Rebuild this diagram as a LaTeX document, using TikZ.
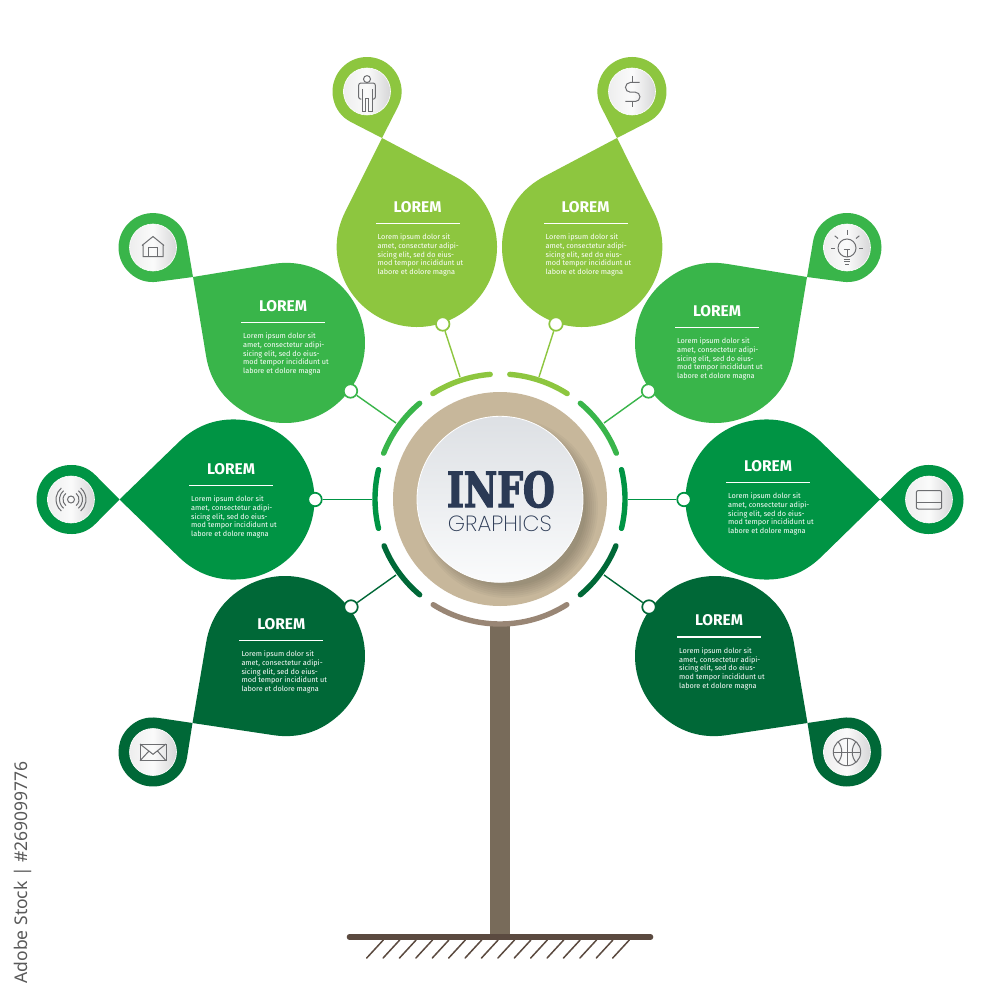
\documentclass[tikz,border=0pt]{standalone}
\usepackage{fontspec}
\setmainfont{Fira Sans}
\newfontfamily\infofont[UprightFont={* Bold},FakeStretch=0.75,FakeBold=2.4]{DejaVu Serif}
\newfontfamily\graphfont[UprightFont={* ExtraLight}]{Poppins}
\newfontfamily\stockfont{Noto Sans}
\definecolor{leaflight}{HTML}{8DC63F}
\definecolor{leafgreen}{HTML}{39B54A}
\definecolor{leafmid}{HTML}{009444}
\definecolor{leafdark}{HTML}{006837}
\definecolor{crowntan}{HTML}{C7B79B}
\definecolor{barkarc}{HTML}{998675}
\definecolor{bark}{HTML}{786B5A}
\definecolor{soil}{HTML}{5B4A40}
\definecolor{inkblue}{HTML}{2B3A55}
\definecolor{icongrey}{HTML}{6D6E71}
\definecolor{hubtop}{HTML}{DDE0E4}
\definecolor{hublow}{HTML}{FAFBFC}
\tikzset{
  title/.style = {text = white, font = \fontsize{15.5}{16}\selectfont\bfseries, inner sep = 0},
  bar/.style = {fill = white, minimum width = 84, minimum height = 1.6, inner sep = 0, outer sep = 0},
  body/.style = {text = white, anchor = north west, inner sep = 0, align = left,
                 font = \fontsize{7.3}{8.67}\selectfont},
  port/.style = {circle, draw = #1, fill = white, line width = 1.7, minimum size = 13.5, inner sep = 0},
  link/.style = {draw = #1, line width = 1.4},
  ring/.style = {draw = #1, line width = 5.4, line cap = round},
  disc/.style = {circle, minimum size = 47, inner sep = 0, draw = white, line width = 0.6, shading angle = -20,
                 left color = white!88!icongrey, right color = white!72!icongrey, middle color = white!97!icongrey},
  iconline/.style = {draw = icongrey, line width = 1},
}
% filled drop: circle (cx,cy) of radius r, pulled out to a tip (tx,ty), shoulders eased with curves
\newcommand{\dropshape}[6]{%
  \pgfmathsetmacro\dropbase{atan2(#5-#2,#4-#1)}%
  \pgfmathsetmacro\dropopen{acos(#3/veclen(#4-#1,#5-#2))}%
  \pgfmathsetmacro\dropreach{0.32*#3}%
  \pgfmathsetmacro\drophandle{0.3*#3}%
  \pgfmathsetmacro\dropA{\dropbase+\dropopen}%
  \pgfmathsetmacro\dropB{\dropbase+360-\dropopen}%
  \fill[#6] (#4,#5) -- ([shift={(\dropA:#3)}]#1,#2)
    .. controls ([shift={(\dropA:#3)},shift={(\dropA+90:\dropreach)}]#1,#2)
    and ([shift={(\dropA+50:#3)},shift={(\dropA+140:-\drophandle)}]#1,#2)
    .. ([shift={(\dropA+50:#3)}]#1,#2)
    arc[start angle=\dropA+50, end angle=\dropB-50, radius=#3]
    .. controls ([shift={(\dropB-50:#3)},shift={(\dropB+40:\drophandle)}]#1,#2)
    and ([shift={(\dropB:#3)},shift={(\dropB+90:-\dropreach)}]#1,#2)
    .. ([shift={(\dropB:#3)}]#1,#2) -- cycle;
}
\begin{document}
\begin{tikzpicture}[x=1pt, y=1pt, yscale=-1]
\useasboundingbox (0,0) rectangle (1000,1000);
\fill[white] (0,0) rectangle (1000,1000);

\fill[bark] (490,624) rectangle (510,937);
\draw[soil, line width = 5.6, line cap = round] (349.5,937) -- (650.5,937);
\foreach \i in {0,...,15}
  \draw[soil, line width = 1.5, line cap = round] (383.3+16.4*\i,940) -- (366.7+16.4*\i,958);

\foreach \id/\cx/\cy/\tx/\ty/\px/\py/\col/\lx/\ly/\ox/\oy/\ex/\ey in {
  1/417/247/382/138/367/91.5/leaflight/417.5/207/442.7/324/460/377,
  2/582/247/617/138/632/91.5/leaflight/585.5/207/556/324/539/377,
  3/285/343/193/277/153/247.5/leafgreen/283/306/350.5/391/396/423,
  4/715/343/807/277/847/247.5/leafgreen/717/311/648.5/391/604/423,
  5/234.5/499.5/119.5/499.5/71/499.5/leafmid/231/469/315/499.5/372/499.5,
  6/765.5/499.5/880/499.5/929/499.5/leafmid/768/466/684/499.5/628/499.5,
  7/285/656/192.5/723/153/752/leafdark/281.3/624/351/607/396/575,
  8/715/656/807.5/723/847/752/leafdark/719/620.5/649/607/604/575}
{
  \dropshape{\cx}{\cy}{80}{\tx}{\ty}{\col}
  \dropshape{\px}{\py}{34.5}{\tx}{\ty}{\col}
  \node[disc] (disc\id) at (\px,\py) {};
  \node[title] (title\id) at (\lx,\ly) {LOREM};
  \node[bar] (bar\id) at (\lx,\ly+16.5) {};
  \node[body] (body\id) at (\lx-40,\ly+27) {Lorem ipsum dolor sit\\amet, consectetur adipi-\\sicing elit, sed do eius-\\mod tempor incididunt ut\\labore et dolore magna};
  \coordinate (end\id) at (\ex,\ey);
  \node[port = \col] (port\id) at (\ox,\oy) {};
  \draw[link = \col] (port\id) -- (end\id);
}

\foreach \a/\b/\col in {-94.5/-122.5/leaflight, -85.5/-57.5/leaflight, -130/-158.5/leafgreen,
  -50/-21.5/leafgreen, -166.4/-193.6/leafmid, -13.6/13.6/leafmid, -202/-230/leafdark,
  22/50/leafdark, 57.7/122.3/barkarc}
  \draw[ring = \col] ([shift={(\a:125)}]500,499) arc[start angle=\a, end angle=\b, radius=125];

\node[circle, fill = crowntan, minimum size = 214, inner sep = 0] (crown) at (500,499) {};
\begin{scope}
\clip (500,499) circle (107);
\foreach \r in {78,80,...,90}
  \fill[black, opacity = 0.03] (508,508) circle (\r);
\end{scope}
\node[circle, draw = white, line width = 0.8, minimum size = 166, inner sep = 0, shading angle = 35,
      top color = hubtop, bottom color = hublow] (hub) at (500,499.3) {};
\node[text = inkblue, inner sep = 0, font = \infofont\fontsize{48.5}{50}\selectfont] (info) at (500.8,489.5) {INFO};
\node[text = inkblue, inner sep = 0, font = \graphfont\fontsize{22}{24}\selectfont] (graphics) at (499.8,523.5) {GRAPHICS};

\begin{scope}[shift={(disc1.center)}, iconline]
\draw (0,-12.4) circle (3.5);
\draw[rounded corners = 2] (-5.7,7.6) -- (-8.3,7.6) -- (-8.3,-8.4) -- (8.3,-8.4) -- (8.3,7.6) -- (5.7,7.6);
\draw (-5,-2.5) -- (-5,20) -- (-1.2,20) -- (-1.2,7) -- (1.2,7) -- (1.2,20) -- (5,20) -- (5,-2.5);
\end{scope}
\begin{scope}[shift={(disc2.center)}, iconline]
\draw (7.7,-9) -- (-1.7,-9) arc[start angle=-90, delta angle=-180, radius=4.85] -- (3.3,0.7)
  arc[start angle=-90, delta angle=180, radius=4.65] -- (-6.7,10);
\draw (0,-15.7) -- (0,-9) (0,10) -- (0,15.5);
\end{scope}
\begin{scope}[shift={(disc3.center)}, iconline]
\draw (-11,-2) -- (0,-11) -- (11,-2) (-10,-2.5) -- (-10,9) -- (10,9) -- (10,-2.5);
\draw (-4.7,9) -- (-4.7,-0.5) -- (4.7,-0.5) -- (4.7,9);
\end{scope}
\begin{scope}[shift={(disc4.center)}, iconline]
\draw (0,0.5) circle (9);
\draw (-3.3,2.3) -- (3.3,2.3) (0,2.3) -- (0,9);
\draw (-3.3,11.7) -- (3.3,11.7) (-2.7,14) -- (2.7,14) (-1.7,16.7) -- (1.7,16.7);
\draw (0,-17.7) -- (0,-12.3) (-15.7,0.7) -- (-11.7,0.7) (15.7,0.7) -- (11.7,0.7);
\draw (-12.3,-11.7) -- (-9,-9) (12.3,-11.7) -- (9,-9);
\end{scope}
\begin{scope}[shift={(disc5.center)}, iconline]
\draw (0,0) circle (3.5);
\foreach \r in {8,11.5,15} {
  \draw ([shift={(-50:\r)}]0,0) arc[start angle=-50, delta angle=100, radius=\r];
  \draw ([shift={(130:\r)}]0,0) arc[start angle=130, delta angle=100, radius=\r];
}
\end{scope}
\begin{scope}[shift={(disc6.center)}, iconline]
\draw[rounded corners = 2] (-12.7,-9) rectangle (12.7,9.5);
\draw (-12.7,3) -- (12.7,3);
\end{scope}
\begin{scope}[shift={(disc7.center)}, iconline]
\draw (-13,-8) rectangle (13,8.7);
\draw (-13,-8) -- (0,2.3) -- (13,-8) (-13,8.7) -- (-4,-1) (13,8.7) -- (4.5,-1);
\end{scope}
\begin{scope}[shift={(disc8.center)}, iconline]
\draw (0,0) circle (13.7);
\draw (-13.7,0) -- (13.7,0) (0,-13.7) -- (0,13.7);
\draw (-9,-10.3) .. controls (-4,-5) and (-4,5) .. (-9,10.3);
\draw (9,-10.3) .. controls (4,-5) and (4,5) .. (9,10.3);
\end{scope}

\node[text = black!65, rotate = 90, anchor = east, inner sep = 0, font = \stockfont\fontsize{17.5}{18}\selectfont] (stock) at (23,761) {Adobe Stock | \#269099776};
\end{tikzpicture}
\end{document}
